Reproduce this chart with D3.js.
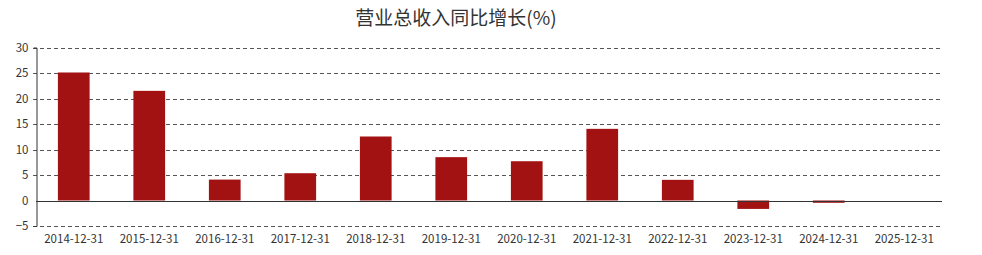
<!DOCTYPE html>
<html>
<head>
<meta charset="utf-8">
<script src="https://cdn.jsdelivr.net/npm/d3@7"></script>
<style>
  body{margin:0;background:#fff;}
  svg text{font-family:"Microsoft YaHei","Noto Sans CJK SC","Noto Sans",sans-serif;}
</style>
</head>
<body>
<div id="chart"></div>
<script>
// 营业总收入同比增长 柱状图
const categories=["2014-12-31","2015-12-31","2016-12-31","2017-12-31","2018-12-31","2019-12-31",
  "2020-12-31","2021-12-31","2022-12-31","2023-12-31","2024-12-31","2025-12-31"];
const growth=[25.1,21.5,4.1,5.35,12.55,8.5,7.7,14.05,4.05,-1.65,-0.45,0];
const yTicks=[-5,0,5,10,15,20,25,30];

const W=982,H=255;
const margin={top:47.5,right:40,bottom:29,left:36};

let svg=d3.select("#chart").append("svg").attr("width",W).attr("height",H);

let x=d3.scaleBand().domain(categories).range([margin.left,W-margin.right]).paddingInner(0.58).paddingOuter(0.29);
let y=d3.scaleLinear().domain([-5,30]).range([H-margin.bottom,margin.top]);

// 网格线
svg.append("g").selectAll("line").data(yTicks.filter(d=>d!==0)).enter().append("line")
  .attr("x1",margin.left-3).attr("x2",W-margin.right)
  .attr("y1",d=>Math.round(y(d))+0.5).attr("y2",d=>Math.round(y(d))+0.5)
  .attr("stroke","#555").attr("stroke-dasharray","4,3");

// 柱子
svg.append("g").selectAll("rect").data(growth).enter().append("rect")
  .attr("x",(d,i)=>x(categories[i]))
  .attr("width",x.bandwidth())
  .attr("y",d=>y(Math.max(0,d)))
  .attr("height",d=>Math.abs(y(d)-y(0)))
  .attr("fill","#a31212");

// 零线
svg.append("line").attr("x1",margin.left).attr("x2",W-margin.right)
  .attr("y1",Math.round(y(0))+0.5).attr("y2",Math.round(y(0))+0.5)
  .attr("stroke","#333");

// y轴
let yAxis=svg.append("g").attr("transform","translate("+(margin.left+0.5)+",0)")
  .call(d3.axisLeft(y).tickValues(yTicks).tickSize(3).tickPadding(5));
yAxis.select(".domain").attr("stroke","#333");
yAxis.selectAll(".tick line").remove();
yAxis.selectAll("text").attr("fill","#333").style("font-size","11.5px");

// x轴标签
let xAxis=svg.append("g").attr("transform","translate(0,"+(H-margin.bottom)+")")
  .call(d3.axisBottom(x).tickSize(0).tickPadding(9));
xAxis.select(".domain").remove();
xAxis.selectAll("text").attr("fill","#333").style("font-size","11.5px");

// 标题
svg.append("text").attr("x",456).attr("y",25).attr("text-anchor","middle")
  .attr("fill","#333").style("font-size","19px").text("营业总收入同比增长(%)");
</script>
</body>
</html>
